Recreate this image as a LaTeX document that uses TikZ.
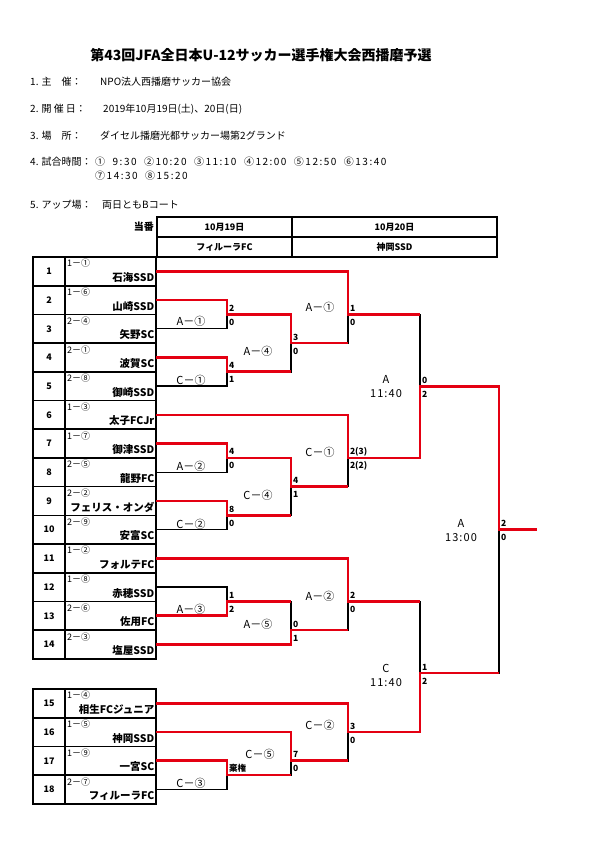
\documentclass[tikz,border=0pt]{standalone}
\usepackage{fontspec}
\setmainfont{Noto Sans CJK JP}
\definecolor{winred}{RGB}{228,0,18}
\tikzset{
  brk/.style={line width=1.4pt},
  win/.style={draw=winred, line width=2.7pt},
  tbl/.style={line width=1.6pt},
  ttl/.style={font=\bfseries\fontsize{14}{16}\selectfont, inner sep=0pt},
  info/.style={font=\fontsize{10}{12}\selectfont, anchor=west, inner sep=0pt},
  hdr/.style={font=\bfseries\fontsize{9}{11}\selectfont, inner sep=0pt},
  num/.style={font=\bfseries\fontsize{9}{11}\selectfont, inner sep=0pt},
  seed/.style={font=\fontsize{9}{10}\selectfont, anchor=west, inner sep=0pt},
  team/.style={font=\bfseries\fontsize{10.5}{12}\selectfont, anchor=east, inner sep=0pt},
  score/.style={font=\bfseries\fontsize{8.5}{10}\selectfont, anchor=west, inner sep=0pt, xshift=1.8pt},
  mlab/.style={font=\fontsize{11}{14}\selectfont, align=center, inner sep=0pt},
  tlab/.style={mlab, font=\fontsize{11}{14}\selectfont\addfontfeature{LetterSpace=10}}
}
\begin{document}
\begin{tikzpicture}[x=1pt, y=-1pt]
        \def\topA{257}
        \def\topB{689}
        \def\rowH{28.7}
        \useasboundingbox (0,0) rectangle (595,842);
        % 标题
        \node[ttl] (title) at (261,55) {第43回JFA全日本U-12サッカー選手権大会西播磨予選};
        % 大会概要
        \node[info] (k1) at (30,82) {1. 主　催：};
        \node[info] (v1) at (100,82) {NPO法人西播磨サッカー協会};
        \node[info] (k2) at (30,109) {2. 開 催 日：};
        \node[info] (v2) at (103,109) {2019年10月19日(土)、20日(日)};
        \node[info] (k3) at (30,136) {3. 場　所：};
        \node[info] (v3) at (100,136) {ダイセル播磨光都サッカー場第2グランド};
        \node[info] (k4) at (30,162) {4. 試合時間：};
        \node[info, font=\fontsize{10}{12}\selectfont\addfontfeature{LetterSpace=15}] (v4) at (95,162) {①\ \ 9:30\ \ ②10:20\ \ ③11:10\ \ ④12:00\ \ ⑤12:50\ \ ⑥13:40};
        \node[info, font=\fontsize{10}{12}\selectfont\addfontfeature{LetterSpace=15}] (v4b) at (95,176) {⑦14:30\ \ ⑧15:20};
        \node[info] (k5) at (30,205) {5. アップ場：};
        \node[info] (v5) at (102,205) {両日ともBコート};
        % 当番表
        \node[hdr, font=\bfseries\fontsize{10}{12}\selectfont, anchor=east] (duty) at (154,227) {当番};
        \draw[tbl] (157,217) rectangle (497,\topA);
        \draw[tbl] (157,237) -- (497,237) (292,217) -- (292,\topA);
        \node[hdr] (day1) at (224.5,227) {10月19日};
        \node[hdr] (duty1) at (224.5,247) {フィルーラFC};
        \node[hdr] (day2) at (394.5,227) {10月20日};
        \node[hdr] (duty2) at (394.5,247) {神岡SSD};
        % 队伍表格
        \draw[tbl] (33,\topA) rectangle (156,{\topA+14*\rowH});
        \draw[tbl] (65,\topA) -- (65,{\topA+14*\rowH});
        \foreach \k in {1,...,13}
            \draw[tbl] (33,{\topA+\k*\rowH}) -- (156,{\topA+\k*\rowH});
        \draw[tbl] (33,\topB) rectangle (156,{\topB+4*\rowH});
        \draw[tbl] (65,\topB) -- (65,{\topB+4*\rowH});
        \foreach \k in {1,2,3}
            \draw[tbl] (33,{\topB+\k*\rowH}) -- (156,{\topB+\k*\rowH});
        \foreach \i/\sd/\nm in {1/1－①/石海SSD, 2/1－⑥/山崎SSD, 3/2－④/矢野SC,
            4/2－①/波賀SC, 5/2－⑧/御崎SSD, 6/1－③/太子FCJr, 7/1－⑦/御津SSD,
            8/2－⑤/龍野FC, 9/2－②/フェリス・オンダ, 10/2－⑨/安富SC,
            11/1－②/フォルテFC, 12/1－⑧/赤穂SSD, 13/2－⑥/佐用FC, 14/2－③/塩屋SSD,
            15/1－④/相生FCジュニア, 16/1－⑤/神岡SSD, 17/1－⑨/一宮SC, 18/2－⑦/フィルーラFC} {
            \pgfmathsetmacro\rt{\i<15 ? \topA+(\i-1)*\rowH : \topB+(\i-15)*\rowH}
            \node[num] (n\i) at (49,{\rt+14.35}) {\i};
            \node[seed] (sd\i) at (67,{\rt+6.5}) {\sd};
            \node[team] (tm\i) at (154.5,{\rt+20.5}) {\nm};
            \coordinate (t\i) at (156,{\rt+14.35});
        }
        % 对阵点
        \coordinate (r1a1) at (227,314.4);
        \coordinate (r1c1) at (227,371.8);
        \coordinate (r1a2) at (227,457.9);
        \coordinate (r1c2) at (227,515.3);
        \coordinate (r1a3) at (227,601.4);
        \coordinate (r1c3) at (227,775.1);
        \coordinate (r2a4) at (291,343.1);
        \coordinate (r2c4) at (291,486.6);
        \coordinate (r2a5) at (291,630.1);
        \coordinate (r2c5) at (291,760.8);
        \coordinate (r3a1) at (348,314.4);
        \coordinate (r3c1) at (348,457.9);
        \coordinate (r3a2) at (348,601.4);
        \coordinate (r3c2) at (348,732.1);
        \coordinate (r4a) at (420,386.2);
        \coordinate (r4c) at (420,673.1);
        \coordinate (r5a) at (499,529.7);
        \coordinate (champ) at (537,529.7);
        % 黑线
        \foreach \a/\j in {t2/r1a1, t3/r1a1, t4/r1c1, t5/r1c1, t7/r1a2, t8/r1a2,
            t9/r1c2, t10/r1c2, t12/r1a3, t13/r1a3, t17/r1c3, t18/r1c3,
            r1a1/r2a4, r1c1/r2a4, r1a2/r2c4, r1c2/r2c4, r1a3/r2a5, t14/r2a5,
            t16/r2c5, r1c3/r2c5, t1/r3a1, r2a4/r3a1, t6/r3c1, r2c4/r3c1,
            t11/r3a2, r2a5/r3a2, t15/r3c2, r2c5/r3c2,
            r3a1/r4a, r3c1/r4a, r3a2/r4c, r3c2/r4c, r4a/r5a, r4c/r5a}
            \draw[brk] (\a) -| (\j);
        % 胜者红线
        \draw[win] (t1) -| (r3a1) -- (r3a1 -| r4a);
        \draw[win] (t2) -| (r1a1) -| (r2a4) -- (r2a4 -| r3a1);
        \draw[win] (t4) -| (r1c1) -- (r1c1 -| r2a4);
        \draw[win] (t6) -| (r3c1) -| (r4a) -| (r5a) -- (champ);
        \draw[win] (t7) -| (r1a2) -| (r2c4) -- (r2c4 -| r3c1);
        \draw[win] (t9) -| (r1c2) -- (r1c2 -| r2c4);
        \draw[win] (t11) -| (r3a2) -- (r3a2 -| r4c);
        \draw[win] (t13) -| (r1a3) -- (r1a3 -| r2a5);
        \draw[win] (t14) -| (r2a5) -- (r2a5 -| r3a2);
        \draw[win] (t15) -| (r3c2) -| (r4c) -- (r4c -| r5a);
        \draw[win] (t16) -| (r2c5) -- (r2c5 -| r3c2);
        \draw[win] (t17) -| (r1c3) -- (r1c3 -| r2c5);
        % 比分
        \foreach \j/\u/\d in {r1a1/2/0, r1c1/4/1, r1a2/4/0, r1c2/8/0, r1a3/1/2,
            r2a4/3/0, r2c4/4/1, r2a5/0/1, r2c5/7/0, r3a1/1/0, r3c1/2(3)/2(2),
            r3a2/2/0, r3c2/3/0, r4a/0/2, r4c/1/2, r5a/2/0} {
            \node[score, yshift=6pt] (\j u) at (\j) {\u};
            \node[score, yshift=-8pt] (\j d) at (\j) {\d};
        }
        \node[score, yshift=7pt] (r1c3u) at (r1c3) {棄権};
        % 场次
        \foreach \nm/\x/\y/\txt in {la1/191/321.5/A－①, lc1/191/380/C－①,
            la2/191/466.5/A－②, lc2/191/524/C－②, la3/191/609/A－③, lc3/191/783/C－③,
            la4/258/351.5/A－④, lc4/258/495.5/C－④, la5/258/624/A－⑤, lc5/260/754/C－⑤,
            ma1/320/307/A－①, mc1/320/452/C－①, ma2/320/596/A－②, mc2/320/725/C－②}
            \node[mlab] (\nm) at (\x,\y) {\txt};
        \node[tlab] (sfa) at (386,387) {A\\11:40};
        \node[tlab] (sfc) at (386,675) {C\\11:40};
        \node[tlab] (fin) at (461,531) {A\\13:00};
\end{tikzpicture}
\end{document}
